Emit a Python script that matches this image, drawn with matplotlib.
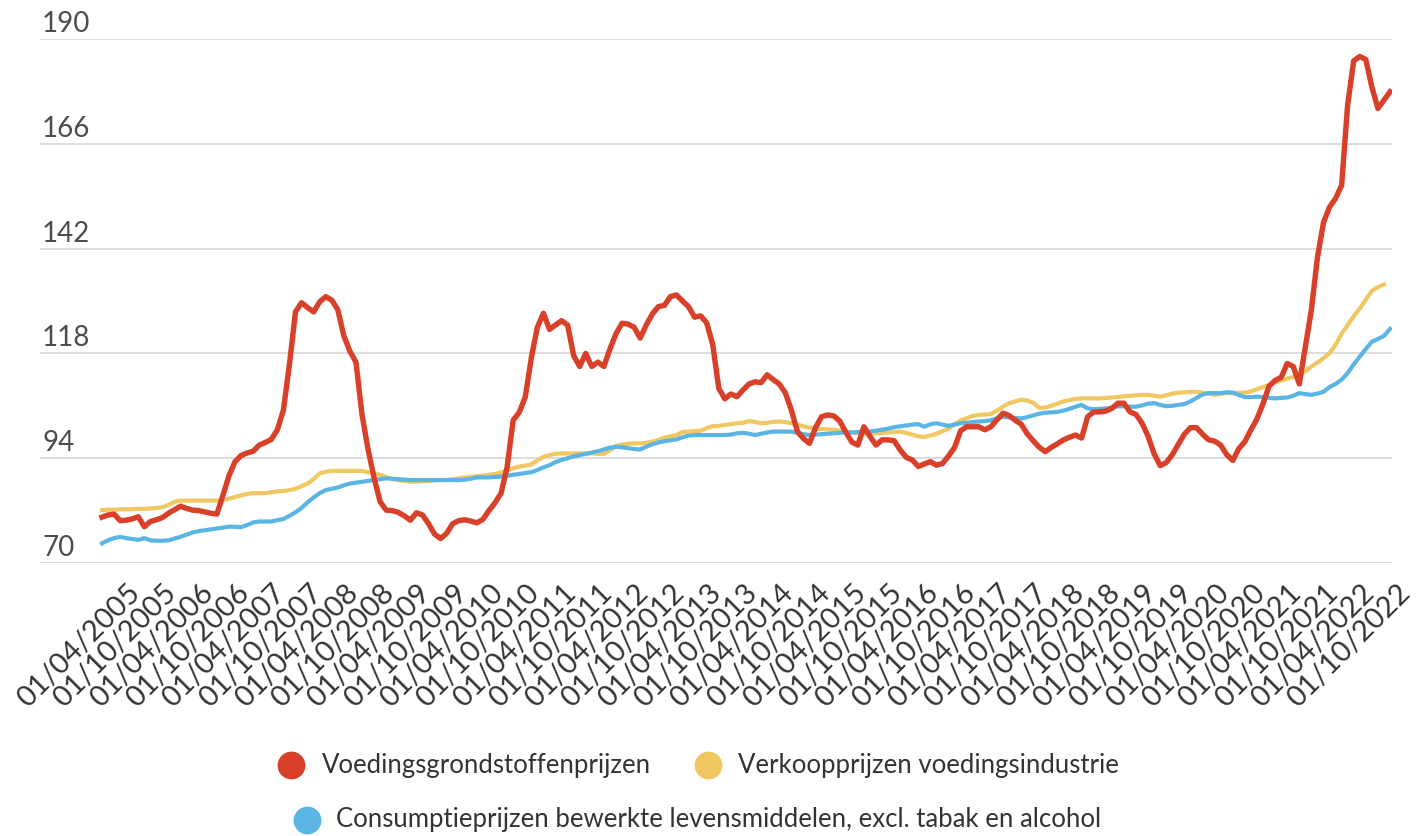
import numpy as np
import pandas as pd
import matplotlib
matplotlib.use("Agg")
import matplotlib.pyplot as plt
from matplotlib.lines import Line2D
from matplotlib.transforms import ScaledTranslation, blended_transform_factory

plt.rcParams['font.family'] = ['Lato', 'DejaVu Sans']

# maandelijkse reeksen, jan 2005 t/m okt 2022
months = pd.date_range('2005-01-01', '2022-10-01', freq='MS')

grondstoffen = [
    80.5, 81.0, 81.2, 79.7, 79.8, 80.1, 80.6, 78.3, 79.5, 79.9, 80.4, 81.4,
    82.2, 83.0, 82.5, 82.1, 82.0, 81.7, 81.4, 81.2, 85.5, 90.0, 93.2, 94.6,
    95.2, 95.6, 97.0, 97.6, 98.3, 100.5, 105.0, 115.5, 127.5, 129.6, 128.5, 127.5,
    129.8, 131.0, 130.2, 128.0, 122.0, 118.5, 116.0, 104.0, 96.0, 89.5, 84.0, 82.1,
    82.0, 81.6, 80.8, 79.8, 81.5, 81.0, 79.0, 76.6, 75.6, 76.8, 79.0, 79.7,
    79.9, 79.6, 79.2, 80.0, 82.0, 83.8, 86.0, 92.0, 102.7, 104.5, 108.0, 117.0,
    124.0, 127.2, 123.5, 124.5, 125.5, 124.5, 117.5, 115.0, 118.0, 115.0, 116.0, 115.0,
    119.0, 122.5, 124.9, 124.7, 124.0, 121.5, 124.5, 127.0, 128.7, 129.0, 131.0, 131.4,
    130.0, 128.7, 126.3, 126.6, 125.0, 120.0, 110.0, 107.6, 108.7, 108.1, 109.6, 111.0,
    111.5, 111.3, 113.1, 112.0, 111.0, 109.0, 105.0, 100.1, 98.5, 97.4, 101.0, 103.5,
    103.9, 103.7, 102.5, 100.0, 97.7, 97.0, 101.2, 99.0, 97.0, 98.2, 98.2, 98.0,
    95.9, 94.2, 93.6, 92.1, 92.7, 93.2, 92.4, 92.8, 94.5, 96.5, 100.3, 101.2,
    101.2, 101.2, 100.5, 101.2, 102.8, 104.3, 103.8, 102.7, 101.8, 99.6, 98.0, 96.5,
    95.5, 96.5, 97.3, 98.2, 98.8, 99.3, 98.6, 103.5, 104.6, 104.6, 104.8, 105.4,
    106.6, 106.6, 104.6, 104.0, 102.0, 99.0, 95.0, 92.3, 93.0, 94.8, 97.2, 99.5,
    101.0, 101.0, 99.5, 98.2, 97.9, 97.0, 94.8, 93.5, 96.2, 97.8, 100.5, 103.0,
    106.5, 110.5, 111.8, 112.5, 115.7, 115.0, 111.0, 119.5, 128.0, 140.0, 148.0, 151.5,
    153.5, 156.5, 175.0, 185.0, 186.0, 185.3, 179.0, 174.1, 176.0, 177.9,
]

verkoop = [
    82.1, 82.2, 82.2, 82.3, 82.3, 82.3, 82.4, 82.4, 82.5, 82.6, 82.8, 83.3,
    84.0, 84.3, 84.3, 84.3, 84.3, 84.3, 84.3, 84.3, 84.4, 84.7, 85.1, 85.5,
    85.8, 86.0, 86.0, 86.0, 86.2, 86.4, 86.5, 86.7, 87.0, 87.6, 88.2, 89.2,
    90.5, 90.9, 91.1, 91.1, 91.1, 91.1, 91.1, 91.1, 90.8, 90.5, 90.2, 89.7,
    89.2, 89.0, 88.8, 88.6, 88.6, 88.7, 88.8, 88.9, 89.0, 89.0, 89.2, 89.4,
    89.6, 89.7, 89.9, 90.0, 90.2, 90.4, 90.7, 91.2, 91.7, 92.1, 92.3, 92.6,
    93.5, 94.3, 94.7, 95.0, 95.1, 95.1, 95.1, 95.1, 95.1, 95.1, 95.0, 95.0,
    95.8, 96.8, 97.1, 97.3, 97.4, 97.4, 97.5, 97.8, 98.2, 98.7, 99.0, 99.3,
    100.0, 100.1, 100.2, 100.3, 100.9, 101.3, 101.4, 101.6, 101.8, 102.0, 102.1, 102.5,
    102.3, 102.0, 102.1, 102.3, 102.4, 102.3, 102.0, 101.7, 101.3, 101.0, 100.8, 100.7,
    100.6, 100.5, 100.3, 100.1, 99.9, 99.7, 99.5, 99.6, 99.7, 99.8, 99.9, 100.0,
    100.1, 99.8, 99.4, 99.0, 98.9, 99.2, 99.6, 100.2, 100.8, 101.8, 102.6, 103.2,
    103.7, 103.9, 104.0, 104.1, 104.9, 105.8, 106.6, 107.0, 107.4, 107.2, 106.7, 105.5,
    105.6, 106.0, 106.5, 107.0, 107.3, 107.6, 107.7, 107.7, 107.7, 107.7, 107.8, 107.9,
    108.0, 108.2, 108.3, 108.4, 108.5, 108.5, 108.3, 108.1, 108.4, 108.8, 109.0, 109.1,
    109.2, 109.2, 109.0, 108.8, 108.5, 108.7, 108.9, 108.9, 109.0, 109.0, 109.3, 109.8,
    110.3, 110.8, 111.3, 111.8, 112.2, 112.6, 113.2, 113.9, 115.0, 115.9, 116.9, 118.0,
    120.0, 122.5, 124.5, 126.5, 128.3, 130.3, 132.3, 133.2, 133.8, np.nan,
]

consumptie = [
    74.5, 75.2, 75.7, 76.0, 75.7, 75.5, 75.3, 75.7, 75.2, 75.1, 75.1, 75.2,
    75.6, 76.0, 76.5, 77.0, 77.3, 77.5, 77.7, 77.9, 78.1, 78.3, 78.3, 78.2,
    78.7, 79.3, 79.5, 79.5, 79.5, 79.8, 80.1, 80.8, 81.6, 82.6, 83.9, 85.0,
    86.0, 86.7, 87.0, 87.3, 87.8, 88.2, 88.4, 88.6, 88.8, 89.0, 89.2, 89.4,
    89.3, 89.2, 89.1, 89.0, 89.0, 89.0, 89.0, 89.0, 89.0, 89.0, 89.0, 89.0,
    89.1, 89.3, 89.6, 89.6, 89.6, 89.7, 89.8, 90.0, 90.2, 90.4, 90.6, 90.8,
    91.3, 91.9, 92.4, 93.1, 93.6, 94.0, 94.4, 94.7, 95.0, 95.3, 95.6, 96.0,
    96.4, 96.6, 96.5, 96.3, 96.1, 96.0, 96.6, 97.2, 97.6, 97.9, 98.1, 98.3,
    98.8, 99.2, 99.3, 99.3, 99.3, 99.3, 99.3, 99.3, 99.4, 99.7, 99.8, 99.6,
    99.3, 99.6, 99.9, 100.1, 100.1, 100.1, 100.1, 99.8, 99.5, 99.3, 99.4, 99.5,
    99.6, 99.7, 99.8, 99.9, 99.9, 100.0, 100.0, 100.1, 100.3, 100.5, 100.8, 101.1,
    101.3, 101.5, 101.7, 101.8, 101.2, 101.8, 102.0, 101.7, 101.4, 101.7, 102.0, 102.1,
    102.3, 102.4, 102.5, 102.7, 103.1, 103.5, 103.3, 103.2, 103.1, 103.4, 103.8, 104.2,
    104.4, 104.5, 104.6, 104.9, 105.3, 105.8, 106.2, 105.4, 105.2, 105.3, 105.4, 105.6,
    105.9, 105.9, 105.8, 105.8, 106.1, 106.5, 106.6, 106.2, 105.9, 106.0, 106.2, 106.4,
    107.0, 107.8, 108.6, 108.9, 108.9, 108.9, 109.1, 109.0, 108.5, 108.0, 108.0, 108.1,
    108.0, 107.8, 107.7, 107.8, 107.9, 108.3, 108.9, 108.7, 108.5, 108.8, 109.2, 110.3,
    111.0, 112.0, 113.5, 115.5, 117.3, 119.0, 120.7, 121.3, 122.0, 123.6,
]

y_ticks = [70, 94, 118, 142, 166, 190]

namen = ['Voedingsgrondstoffenprijzen', 'Verkoopprijzen voedingsindustrie',
         'Consumptieprijzen bewerkte levensmiddelen, excl. tabak en alcohol']
kleuren = ['#d8402a', '#f1c762', '#5ab5e4']

x = np.arange(len(months))

fig = plt.figure(figsize=(14.16, 8.36), dpi=100)
W, H = 1416, 836
ax = fig.add_axes([40 / W, 1 - 563 / H, 1352 / W, 524 / H])

ax.plot(x, verkoop, color=kleuren[1], lw=3.0, solid_joinstyle='round', zorder=2)
ax.plot(x, consumptie, color=kleuren[2], lw=3.0, solid_joinstyle='round', zorder=3)
ax.plot(x, grondstoffen, color=kleuren[0], lw=3.9, solid_joinstyle='round', zorder=4)

ax.set_xlim(-10.25, 213.33)
ax.set_ylim(70, 190)
for s in ax.spines.values():
    s.set_visible(False)

# horizontale rasterlijnen met labels erboven
ax.set_yticks(y_ticks)
ax.set_yticklabels([])
ax.tick_params(axis='y', length=0)
ax.grid(axis='y', color='#dddddd', lw=1.4)
ax.set_axisbelow(True)
trans = blended_transform_factory(ax.transAxes, ax.transData)
for v in y_ticks:
    ax.annotate(str(v), xy=(0.0015, v), xycoords=trans, xytext=(0, 5),
                textcoords='offset points', ha='left', va='baseline',
                fontsize=20, color='#4d4d4d')

# datumlabels om de zes maanden
idx = x[3::6]
labels = months[3::6].strftime('%d/%m/%Y')
ax.set_xticks(idx)
ax.set_xticklabels(labels, rotation=45, ha='right', va='top',
                   rotation_mode='anchor', fontsize=21, color='#333333')
ax.tick_params(axis='x', length=0, pad=12)
offset = ScaledTranslation(7 / 100, 0, fig.dpi_scale_trans)
for lab in ax.get_xticklabels():
    lab.set_transform(lab.get_transform() + offset)

# legenda
legend_pos = [(291, 765, 322), (708, 765, 738), (307, 820, 336)]
for (mx, my, tx), naam, kleur in zip(legend_pos, namen, kleuren):
    fig.add_artist(Line2D([mx / W], [1 - my / H], transform=fig.transFigure,
                          marker='o', ms=19, color=kleur, ls='none'))
    fig.text(tx / W, 1 - my / H, naam, ha='left', va='center',
             fontsize=18.5, color='#333333')

fig.savefig('out.png', dpi=100)
